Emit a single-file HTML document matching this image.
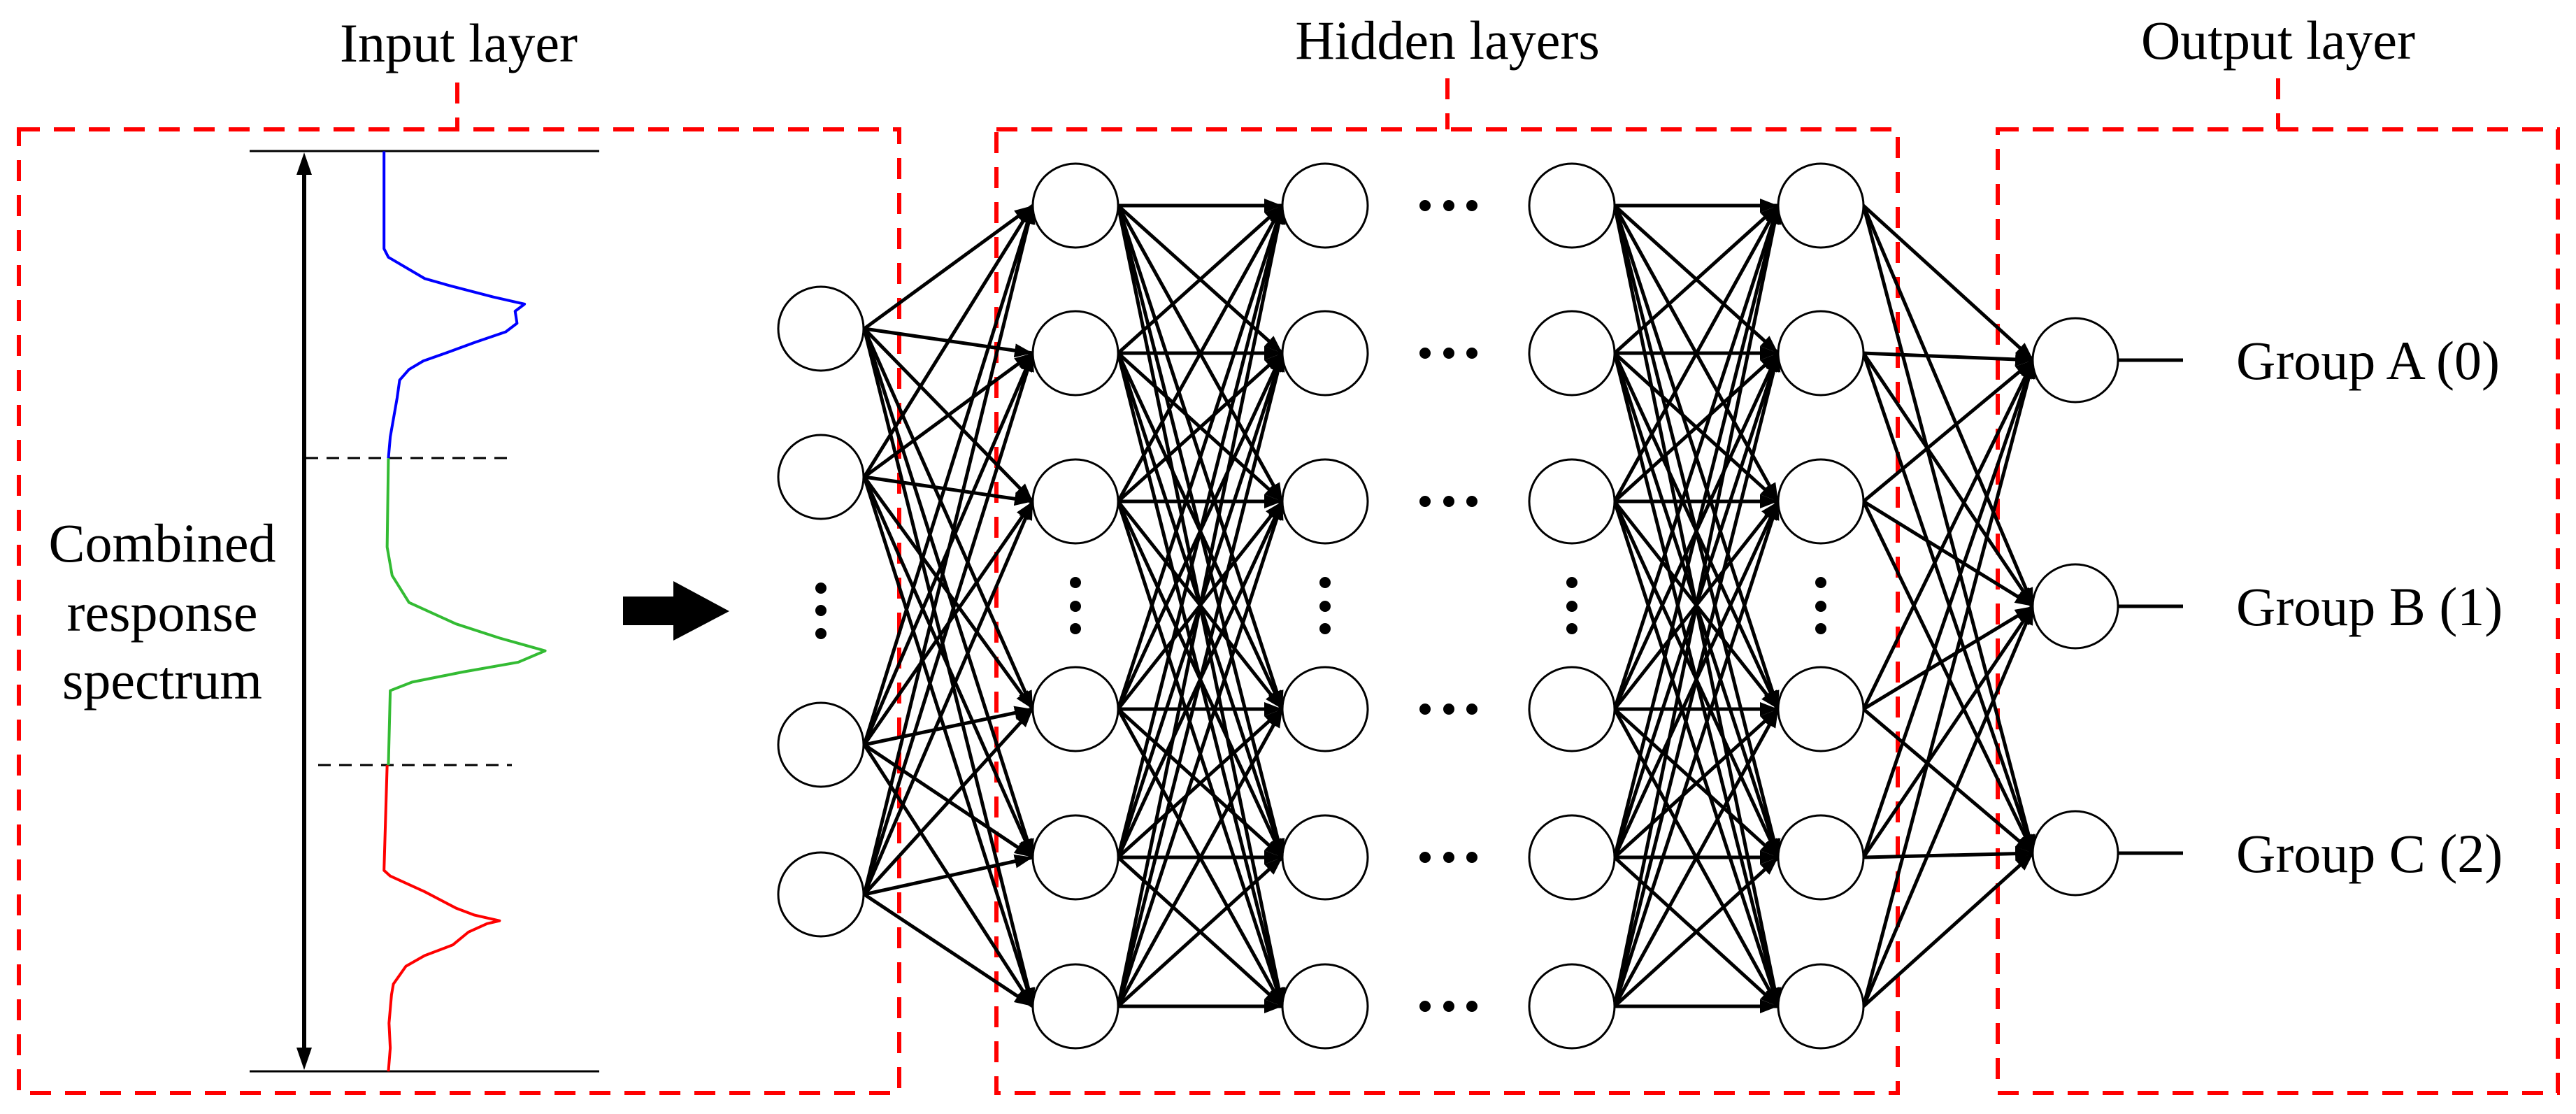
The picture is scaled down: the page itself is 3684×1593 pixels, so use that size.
<!DOCTYPE html>
<html><head><meta charset="utf-8"><style>
html,body{margin:0;padding:0;background:#fff;}
svg{display:block;}
text{font-family:"Liberation Serif",serif;fill:#000;}
</style></head><body>
<svg width="3684" height="1593" viewBox="0 0 3684 1593" xmlns="http://www.w3.org/2000/svg">
<defs>
<marker id="ah" markerWidth="10" markerHeight="8" refX="9" refY="4" orient="auto" markerUnits="userSpaceOnUse" viewBox="0 0 10 8">
</marker>
<marker id="a" viewBox="0 0 10 10" refX="10" refY="5" markerWidth="26" markerHeight="20" markerUnits="userSpaceOnUse" orient="auto" preserveAspectRatio="none"><path d="M0,0 L10,5 L0,10 z" fill="#000"/></marker>
<marker id="va" viewBox="0 0 10 10" refX="10" refY="5" markerWidth="30" markerHeight="20" markerUnits="userSpaceOnUse" orient="auto" preserveAspectRatio="none"><path d="M0,0 L10,5 L0,10 z" fill="#000"/></marker>
</defs>

<!-- red dashed boxes -->
<g fill="none" stroke="#ff0000" stroke-width="6" stroke-dasharray="30 20">
<rect x="27" y="185" width="1259" height="1378"/>
<rect x="1425" y="185" width="1289" height="1378"/>
<rect x="2857" y="185" width="801" height="1378"/>
<line x1="654" y1="118" x2="654" y2="185"/>
<line x1="2070" y1="112" x2="2070" y2="185"/>
<line x1="3258" y1="112" x2="3258" y2="185"/>
</g>

<g font-size="78" text-anchor="middle">
<text x="656" y="88">Input layer</text>
<text x="2070" y="84">Hidden layers</text>
<text x="3258" y="84">Output layer</text>
</g>
<g font-size="78" text-anchor="middle">
<text x="232" y="803">Combined</text>
<text x="232" y="902">response</text>
<text x="232" y="999">spectrum</text>
</g>

<!-- spectrum -->
<g stroke="#000" stroke-width="3" fill="none">
<line x1="357" y1="216" x2="857" y2="216"/>
<line x1="357" y1="1532" x2="857" y2="1532"/>
<line x1="437" y1="655" x2="737" y2="655" stroke-dasharray="18 12"/>
<line x1="455" y1="1094" x2="732" y2="1094" stroke-dasharray="18 12"/>
</g>
<line x1="435" y1="250" x2="435" y2="1500" stroke="#000" stroke-width="6"/>
<path d="M435,218 L424,250 L446,250 z M435,1530 L424,1498 L446,1498 z" fill="#000"/>
<g transform="scale(0.893,1.016)" fill="none" stroke-width="4" stroke-linejoin="round">
<path vector-effect="non-scaling-stroke" stroke="#0000ff" d="M615,213 L615,350 L622,362 L680,392 L720,402 L790,418 L840,428 L825,438 L828,455 L810,467 L760,482 L720,495 L678,508 L655,520 L640,535 L636,560 L630,590 L625,615 L622,645"/>
<path vector-effect="non-scaling-stroke" stroke="#33bb33" d="M622,645 L620,770 L628,810 L655,848 L730,878 L800,898 L873,916 L830,932 L740,946 L660,960 L625,972 L622,1077"/>
<path vector-effect="non-scaling-stroke" stroke="#ff0000" d="M620,1077 L615,1225 L625,1233 L680,1255 L730,1278 L760,1288 L800,1296 L780,1300 L750,1312 L725,1330 L680,1345 L650,1360 L630,1385 L627,1400 L623,1440 L625,1475 L622,1508"/>
</g>

<!-- big arrow -->
<path d="M891,853 L963,853 L963,831 L1043,874 L963,916 L963,894 L891,894 z" fill="#000"/>

<g id="net" stroke="#000" stroke-width="5" fill="none">
<!-- generated below via script-free static content -->
</g>

<g stroke="#000" stroke-width="5" marker-end="url(#a)">
<!-- input -> hidden1 -->
<line x1="1236" y1="470" x2="1477" y2="294"/><line x1="1236" y1="470" x2="1477" y2="505"/><line x1="1236" y1="470" x2="1477" y2="717"/><line x1="1236" y1="470" x2="1477" y2="1014"/><line x1="1236" y1="470" x2="1477" y2="1226"/><line x1="1236" y1="470" x2="1477" y2="1439"/>
<line x1="1236" y1="682" x2="1477" y2="294"/><line x1="1236" y1="682" x2="1477" y2="505"/><line x1="1236" y1="682" x2="1477" y2="717"/><line x1="1236" y1="682" x2="1477" y2="1014"/><line x1="1236" y1="682" x2="1477" y2="1226"/><line x1="1236" y1="682" x2="1477" y2="1439"/>
<line x1="1236" y1="1065" x2="1477" y2="294"/><line x1="1236" y1="1065" x2="1477" y2="505"/><line x1="1236" y1="1065" x2="1477" y2="717"/><line x1="1236" y1="1065" x2="1477" y2="1014"/><line x1="1236" y1="1065" x2="1477" y2="1226"/><line x1="1236" y1="1065" x2="1477" y2="1439"/>
<line x1="1236" y1="1279" x2="1477" y2="294"/><line x1="1236" y1="1279" x2="1477" y2="505"/><line x1="1236" y1="1279" x2="1477" y2="717"/><line x1="1236" y1="1279" x2="1477" y2="1014"/><line x1="1236" y1="1279" x2="1477" y2="1226"/><line x1="1236" y1="1279" x2="1477" y2="1439"/>
<!-- hidden1 -> hidden2 -->
<line x1="1599" y1="294" x2="1834" y2="294"/><line x1="1599" y1="294" x2="1834" y2="505"/><line x1="1599" y1="294" x2="1834" y2="717"/><line x1="1599" y1="294" x2="1834" y2="1014"/><line x1="1599" y1="294" x2="1834" y2="1226"/><line x1="1599" y1="294" x2="1834" y2="1439"/>
<line x1="1599" y1="505" x2="1834" y2="294"/><line x1="1599" y1="505" x2="1834" y2="505"/><line x1="1599" y1="505" x2="1834" y2="717"/><line x1="1599" y1="505" x2="1834" y2="1014"/><line x1="1599" y1="505" x2="1834" y2="1226"/><line x1="1599" y1="505" x2="1834" y2="1439"/>
<line x1="1599" y1="717" x2="1834" y2="294"/><line x1="1599" y1="717" x2="1834" y2="505"/><line x1="1599" y1="717" x2="1834" y2="717"/><line x1="1599" y1="717" x2="1834" y2="1014"/><line x1="1599" y1="717" x2="1834" y2="1226"/><line x1="1599" y1="717" x2="1834" y2="1439"/>
<line x1="1599" y1="1014" x2="1834" y2="294"/><line x1="1599" y1="1014" x2="1834" y2="505"/><line x1="1599" y1="1014" x2="1834" y2="717"/><line x1="1599" y1="1014" x2="1834" y2="1014"/><line x1="1599" y1="1014" x2="1834" y2="1226"/><line x1="1599" y1="1014" x2="1834" y2="1439"/>
<line x1="1599" y1="1226" x2="1834" y2="294"/><line x1="1599" y1="1226" x2="1834" y2="505"/><line x1="1599" y1="1226" x2="1834" y2="717"/><line x1="1599" y1="1226" x2="1834" y2="1014"/><line x1="1599" y1="1226" x2="1834" y2="1226"/><line x1="1599" y1="1226" x2="1834" y2="1439"/>
<line x1="1599" y1="1439" x2="1834" y2="294"/><line x1="1599" y1="1439" x2="1834" y2="505"/><line x1="1599" y1="1439" x2="1834" y2="717"/><line x1="1599" y1="1439" x2="1834" y2="1014"/><line x1="1599" y1="1439" x2="1834" y2="1226"/><line x1="1599" y1="1439" x2="1834" y2="1439"/>
<!-- hidden3 -> hidden4 -->
<line x1="2309" y1="294" x2="2543" y2="294"/><line x1="2309" y1="294" x2="2543" y2="505"/><line x1="2309" y1="294" x2="2543" y2="717"/><line x1="2309" y1="294" x2="2543" y2="1014"/><line x1="2309" y1="294" x2="2543" y2="1226"/><line x1="2309" y1="294" x2="2543" y2="1439"/>
<line x1="2309" y1="505" x2="2543" y2="294"/><line x1="2309" y1="505" x2="2543" y2="505"/><line x1="2309" y1="505" x2="2543" y2="717"/><line x1="2309" y1="505" x2="2543" y2="1014"/><line x1="2309" y1="505" x2="2543" y2="1226"/><line x1="2309" y1="505" x2="2543" y2="1439"/>
<line x1="2309" y1="717" x2="2543" y2="294"/><line x1="2309" y1="717" x2="2543" y2="505"/><line x1="2309" y1="717" x2="2543" y2="717"/><line x1="2309" y1="717" x2="2543" y2="1014"/><line x1="2309" y1="717" x2="2543" y2="1226"/><line x1="2309" y1="717" x2="2543" y2="1439"/>
<line x1="2309" y1="1014" x2="2543" y2="294"/><line x1="2309" y1="1014" x2="2543" y2="505"/><line x1="2309" y1="1014" x2="2543" y2="717"/><line x1="2309" y1="1014" x2="2543" y2="1014"/><line x1="2309" y1="1014" x2="2543" y2="1226"/><line x1="2309" y1="1014" x2="2543" y2="1439"/>
<line x1="2309" y1="1226" x2="2543" y2="294"/><line x1="2309" y1="1226" x2="2543" y2="505"/><line x1="2309" y1="1226" x2="2543" y2="717"/><line x1="2309" y1="1226" x2="2543" y2="1014"/><line x1="2309" y1="1226" x2="2543" y2="1226"/><line x1="2309" y1="1226" x2="2543" y2="1439"/>
<line x1="2309" y1="1439" x2="2543" y2="294"/><line x1="2309" y1="1439" x2="2543" y2="505"/><line x1="2309" y1="1439" x2="2543" y2="717"/><line x1="2309" y1="1439" x2="2543" y2="1014"/><line x1="2309" y1="1439" x2="2543" y2="1226"/><line x1="2309" y1="1439" x2="2543" y2="1439"/>
<!-- hidden4 -> output -->
<line x1="2665" y1="294" x2="2908" y2="515"/><line x1="2665" y1="294" x2="2908" y2="867"/><line x1="2665" y1="294" x2="2908" y2="1220"/>
<line x1="2665" y1="505" x2="2908" y2="515"/><line x1="2665" y1="505" x2="2908" y2="867"/><line x1="2665" y1="505" x2="2908" y2="1220"/>
<line x1="2665" y1="717" x2="2908" y2="515"/><line x1="2665" y1="717" x2="2908" y2="867"/><line x1="2665" y1="717" x2="2908" y2="1220"/>
<line x1="2665" y1="1014" x2="2908" y2="515"/><line x1="2665" y1="1014" x2="2908" y2="867"/><line x1="2665" y1="1014" x2="2908" y2="1220"/>
<line x1="2665" y1="1226" x2="2908" y2="515"/><line x1="2665" y1="1226" x2="2908" y2="867"/><line x1="2665" y1="1226" x2="2908" y2="1220"/>
<line x1="2665" y1="1439" x2="2908" y2="515"/><line x1="2665" y1="1439" x2="2908" y2="867"/><line x1="2665" y1="1439" x2="2908" y2="1220"/>
</g>

<!-- nodes -->
<g fill="#fff" stroke="#000" stroke-width="3">
<ellipse cx="1174" cy="470" rx="61" ry="60"/><ellipse cx="1174" cy="682" rx="61" ry="60"/><ellipse cx="1174" cy="1065" rx="61" ry="60"/><ellipse cx="1174" cy="1279" rx="61" ry="60"/>
<ellipse cx="1538" cy="294" rx="61" ry="60"/><ellipse cx="1538" cy="505" rx="61" ry="60"/><ellipse cx="1538" cy="717" rx="61" ry="60"/><ellipse cx="1538" cy="1014" rx="61" ry="60"/><ellipse cx="1538" cy="1226" rx="61" ry="60"/><ellipse cx="1538" cy="1439" rx="61" ry="60"/>
<ellipse cx="1895" cy="294" rx="61" ry="60"/><ellipse cx="1895" cy="505" rx="61" ry="60"/><ellipse cx="1895" cy="717" rx="61" ry="60"/><ellipse cx="1895" cy="1014" rx="61" ry="60"/><ellipse cx="1895" cy="1226" rx="61" ry="60"/><ellipse cx="1895" cy="1439" rx="61" ry="60"/>
<ellipse cx="2248" cy="294" rx="61" ry="60"/><ellipse cx="2248" cy="505" rx="61" ry="60"/><ellipse cx="2248" cy="717" rx="61" ry="60"/><ellipse cx="2248" cy="1014" rx="61" ry="60"/><ellipse cx="2248" cy="1226" rx="61" ry="60"/><ellipse cx="2248" cy="1439" rx="61" ry="60"/>
<ellipse cx="2604" cy="294" rx="61" ry="60"/><ellipse cx="2604" cy="505" rx="61" ry="60"/><ellipse cx="2604" cy="717" rx="61" ry="60"/><ellipse cx="2604" cy="1014" rx="61" ry="60"/><ellipse cx="2604" cy="1226" rx="61" ry="60"/><ellipse cx="2604" cy="1439" rx="61" ry="60"/>
<ellipse cx="2968" cy="515" rx="61" ry="60"/><ellipse cx="2968" cy="867" rx="61" ry="60"/><ellipse cx="2968" cy="1220" rx="61" ry="60"/>
</g>

<!-- dots -->
<g fill="#000">
<circle cx="1174" cy="841" r="8"/><circle cx="1174" cy="873" r="8"/><circle cx="1174" cy="906" r="8"/>
<circle cx="1538" cy="833" r="8"/><circle cx="1538" cy="867" r="8"/><circle cx="1538" cy="899" r="8"/>
<circle cx="1895" cy="833" r="8"/><circle cx="1895" cy="867" r="8"/><circle cx="1895" cy="899" r="8"/>
<circle cx="2248" cy="833" r="8"/><circle cx="2248" cy="867" r="8"/><circle cx="2248" cy="899" r="8"/>
<circle cx="2604" cy="833" r="8"/><circle cx="2604" cy="867" r="8"/><circle cx="2604" cy="899" r="8"/>
<g id="hd">
<circle cx="2038" cy="294" r="8"/><circle cx="2072" cy="294" r="8"/><circle cx="2105" cy="294" r="8"/>
<circle cx="2038" cy="505" r="8"/><circle cx="2072" cy="505" r="8"/><circle cx="2105" cy="505" r="8"/>
<circle cx="2038" cy="717" r="8"/><circle cx="2072" cy="717" r="8"/><circle cx="2105" cy="717" r="8"/>
<circle cx="2038" cy="1014" r="8"/><circle cx="2072" cy="1014" r="8"/><circle cx="2105" cy="1014" r="8"/>
<circle cx="2038" cy="1226" r="8"/><circle cx="2072" cy="1226" r="8"/><circle cx="2105" cy="1226" r="8"/>
<circle cx="2038" cy="1439" r="8"/><circle cx="2072" cy="1439" r="8"/><circle cx="2105" cy="1439" r="8"/>
</g>
</g>

<!-- outputs -->
<g stroke="#000" stroke-width="5">
<line x1="3029" y1="515" x2="3122" y2="515"/>
<line x1="3029" y1="867" x2="3122" y2="867"/>
<line x1="3029" y1="1220" x2="3122" y2="1220"/>
</g>
<g font-size="78">
<text x="3198" y="542">Group A (0)</text>
<text x="3198" y="894">Group B (1)</text>
<text x="3198" y="1247">Group C (2)</text>
</g>
</svg>
</body></html>
